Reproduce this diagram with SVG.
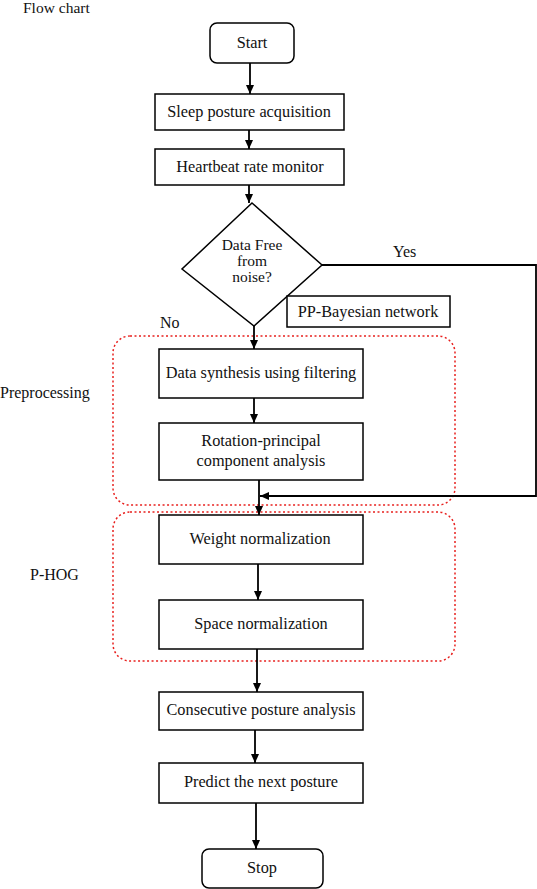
<svg xmlns="http://www.w3.org/2000/svg" width="537" height="889" viewBox="0 0 537 889">
<style>
.box{fill:#fff;stroke:#000;stroke-width:1.5}
.t{font-family:"Liberation Serif",serif;font-size:16.3px;fill:#111;text-anchor:middle}
.d{font-size:15.5px}
.l{font-family:"Liberation Serif",serif;font-size:16px;fill:#111}
.grp{fill:none;stroke:#e8201e;stroke-width:1.5;stroke-dasharray:2 2.5}
.c{fill:none;stroke:#000;stroke-width:1.8}
</style>
<defs>
<marker id="ah" markerWidth="10" markerHeight="10" refX="9" refY="5" orient="auto" markerUnits="userSpaceOnUse">
<path d="M0,1 L9,5 L0,9 Z" fill="#000"/>
</marker>
</defs>
<rect width="537" height="889" fill="#fff"/>
<text class="l" x="23" y="13" style="font-size:15.5px">Flow chart</text>
<text class="l" x="0" y="398">Preprocessing</text>
<text class="l" x="30" y="580">P-HOG</text>
<g id="grp-pre"><rect class="grp" x="113" y="336" width="342" height="169" rx="17"/></g>
<g id="grp-phog"><rect class="grp" x="113" y="512" width="342" height="149" rx="17"/></g>
<g id="connectors">
<line class="c" x1="250" y1="63" x2="250" y2="94" marker-end="url(#ah)"/>
<line class="c" x1="249" y1="130" x2="249" y2="149" marker-end="url(#ah)"/>
<line class="c" x1="249" y1="185" x2="249" y2="203" marker-end="url(#ah)"/>
<line class="c" x1="254" y1="326" x2="254" y2="349" marker-end="url(#ah)"/>
<line class="c" x1="254" y1="398" x2="254" y2="423" marker-end="url(#ah)"/>
<line class="c" x1="259" y1="480" x2="259" y2="515" marker-end="url(#ah)"/>
<line class="c" x1="258" y1="564" x2="258" y2="600" marker-end="url(#ah)"/>
<line class="c" x1="257" y1="649" x2="257" y2="692" marker-end="url(#ah)"/>
<line class="c" x1="255" y1="730" x2="255" y2="763" marker-end="url(#ah)"/>
<line class="c" x1="256" y1="803" x2="256" y2="849" marker-end="url(#ah)"/>
<polyline class="c" points="322,265 536,265 536,496 260,496" marker-end="url(#ah)"/>
<text class="l" x="393" y="257">Yes</text>
<text class="l" x="160" y="328">No</text>
</g>
<g id="start"><rect class="box" x="210" y="23" width="84" height="40" rx="7"/><text class="t" x="252" y="48">Start</text></g>
<g id="sleep"><rect class="box" x="155" y="94" width="189" height="36"/><text class="t" x="249" y="117">Sleep posture acquisition</text></g>
<g id="heart"><rect class="box" x="155" y="149" width="189" height="36"/><text class="t" x="250" y="172">Heartbeat rate monitor</text></g>
<g id="decision"><polygon class="box" points="252,203 322,265 254,326 182,269"/>
<text class="t d" x="252" y="250">Data Free</text><text class="t d" x="252" y="266">from</text><text class="t d" x="252" y="282">noise?</text></g>
<g id="ppbayes"><rect class="box" x="287" y="296" width="163" height="31"/><text class="t" x="368" y="317">PP-Bayesian network</text></g>
<g id="synth"><rect class="box" x="159" y="349" width="204" height="49"/><text class="t" x="261" y="378">Data synthesis using filtering</text></g>
<g id="rpca"><rect class="box" x="159" y="423" width="204" height="57"/><text class="t" x="261" y="446">Rotation-principal</text><text class="t" x="261" y="466">component analysis</text></g>
<g id="weight"><rect class="box" x="159" y="515" width="204" height="49"/><text class="t" x="260" y="544">Weight normalization</text></g>
<g id="space"><rect class="box" x="159" y="600" width="204" height="49"/><text class="t" x="261" y="629">Space normalization</text></g>
<g id="consec"><rect class="box" x="159" y="692" width="204" height="38"/><text class="t" x="261" y="715">Consecutive posture analysis</text></g>
<g id="predict"><rect class="box" x="159" y="763" width="204" height="40"/><text class="t" x="261" y="787">Predict the next posture</text></g>
<g id="stop"><rect class="box" x="202" y="849" width="121" height="39" rx="7"/><text class="t" x="262" y="873">Stop</text></g>
</svg>
